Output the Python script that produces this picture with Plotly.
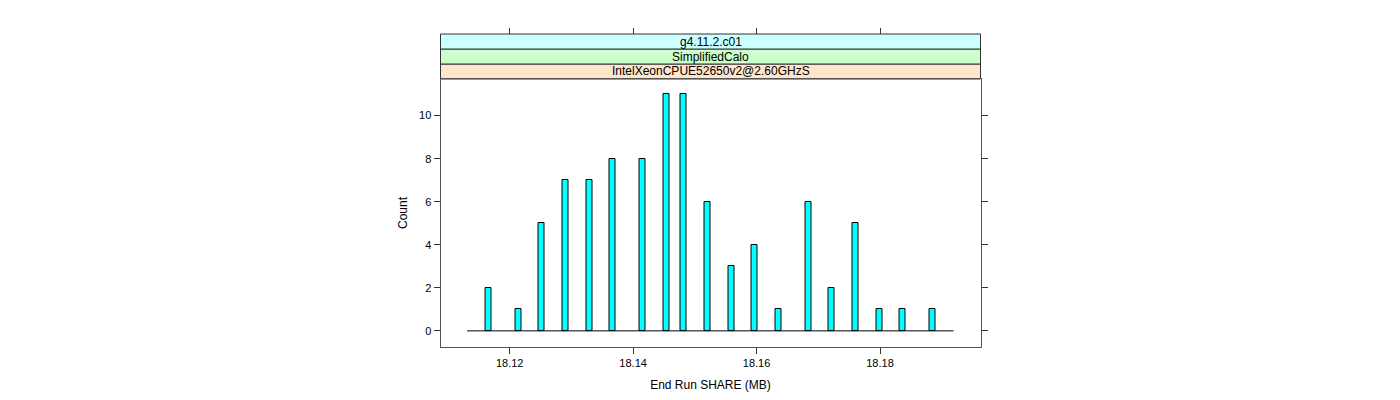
import plotly.graph_objects as go

# Data
bin_centers = [18.1166, 18.1214, 18.1252, 18.1291, 18.1329, 18.1367, 18.1415,
               18.1454, 18.1482, 18.1521, 18.1560, 18.1597, 18.1636, 18.1684,
               18.1722, 18.1760, 18.1799, 18.1837, 18.1885]
counts = [2, 1, 5, 7, 7, 8, 8, 11, 11, 6, 3, 4, 1, 6, 2, 5, 1, 1, 1]
hist_range = [18.1131, 18.1919]
x_ticks = [18.12, 18.14, 18.16, 18.18]
y_ticks = [0, 2, 4, 6, 8, 10]
strip_labels = ["IntelXeonCPUE52650v2@2.60GHzS", "SimplifiedCalo", "g4.11.2.c01"]
strip_colors = ["#ffe5cc", "#ccffcc", "#ccffff"]

W, H = 1400, 400
OFF = 8  # page body margin
x0p, x1p = (440.5 - OFF) / W, (980.5 - OFF) / W
y0p, y1p = 1 - (347 - OFF) / H, 1 - (79 - OFF) / H
strip_h = 15 / H
x_range = [18.10879, 18.19628]
y_range = [-0.75, 11.7]

fig = go.Figure()

# baseline of empty bins
fig.add_trace(go.Scatter(x=hist_range, y=[0, 0], mode="lines",
                         line=dict(color="black", width=1), showlegend=False,
                         hoverinfo="skip"))
fig.add_trace(go.Bar(x=bin_centers, y=counts, width=0.00097,
                     marker=dict(color="#00ffff", line=dict(color="black", width=1)),
                     showlegend=False))
# ghost trace for top axis
fig.add_trace(go.Scatter(x=hist_range, y=[0, 0], xaxis="x2", mode="lines",
                         line=dict(width=0), showlegend=False, hoverinfo="skip"))

font = dict(family="Liberation Sans, Arial, sans-serif", size=11, color="black")
tickfont = dict(family="Liberation Sans, Arial, sans-serif", size=11, color="black")

fig.update_layout(
    width=W, height=H,
    margin=dict(l=0, r=0, t=0, b=0),
    paper_bgcolor="white", plot_bgcolor="white",
    font=font,
    bargap=0,
    xaxis=dict(domain=[x0p, x1p], range=x_range, tickvals=x_ticks,
               ticktext=[f"{v:.2f}" for v in x_ticks], tickfont=tickfont,
               ticks="outside", ticklen=6, tickcolor="#333", showgrid=False,
               zeroline=False, showline=True, linecolor="#555", linewidth=1,
               mirror=True, anchor="y",
               title=dict(text="End Run SHARE (MB)", standoff=12,
                          font=dict(size=12, color="black"))),
    xaxis2=dict(overlaying="x", range=x_range, tickvals=x_ticks,
                showticklabels=False, ticks="outside", ticklen=6,
                tickcolor="#333", side="top", anchor="free",
                position=y1p + 3 * strip_h, showgrid=False, zeroline=False,
                showline=False),
    yaxis=dict(domain=[y0p, y1p], range=y_range, tickvals=y_ticks,
               tickfont=tickfont,
               ticks="outside", ticklen=6, tickcolor="#333", showgrid=False,
               zeroline=False, showline=True, linecolor="#555", linewidth=1,
               mirror="ticks",
               title=dict(text="Count", standoff=8,
                          font=dict(size=12, color="black"))),
)

for i, (lab, col) in enumerate(zip(strip_labels, strip_colors)):
    ya = y1p + i * strip_h
    yb = ya + strip_h
    fig.add_shape(type="rect", xref="paper", yref="paper",
                  x0=x0p, x1=x1p, y0=ya, y1=yb,
                  fillcolor=col, line=dict(color="#333", width=1), layer="below")
    fig.add_annotation(xref="paper", yref="paper", x=(x0p + x1p) / 2,
                       y=(ya + yb) / 2, text=lab, showarrow=False,
                       font=dict(size=12, color="black"), yanchor="middle")

fig.write_html("out.html")
